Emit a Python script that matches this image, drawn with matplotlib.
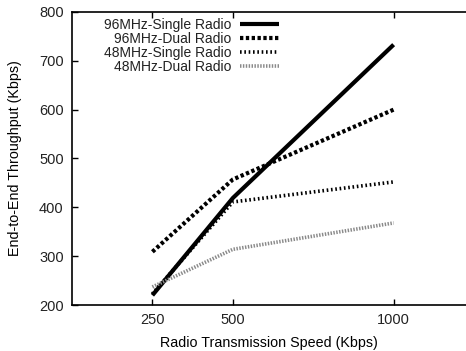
import matplotlib
matplotlib.use("Agg")
import matplotlib.pyplot as plt

plt.rcParams['font.family'] = ['Liberation Sans', 'DejaVu Sans']
plt.rcParams['text.color'] = '#222222'
plt.rcParams['xtick.labelcolor'] = '#222222'
plt.rcParams['ytick.labelcolor'] = '#222222'

speeds = [250, 500, 1000]
single_96 = [220, 419, 733]
dual_96 = [309, 457, 600]
single_48 = [223, 411, 452]
dual_48 = [237, 314, 368]
labels = ["96MHz-Single Radio", "96MHz-Dual Radio", "48MHz-Single Radio", "48MHz-Dual Radio"]

fig = plt.figure(figsize=(4.66, 3.51), dpi=100)
ax = fig.add_axes([0.1545, 0.131, 0.8455, 0.835])

ax.plot(speeds, single_96, color='black', lw=3.0, solid_capstyle='butt', label=labels[0])
ax.plot(speeds, dual_96, color='black', lw=3.0, dashes=(0.8, 0.6), dash_capstyle='butt', label=labels[1])
ax.plot(speeds, single_48, color='black', lw=2.6, dashes=(0.45, 0.75), dash_capstyle='butt', label=labels[2])
ax.plot(speeds, dual_48, color='#8a8a8a', lw=2.6, dashes=(0.4, 0.4), dash_capstyle='butt', label=labels[3])

ax.set_xlim(0, 1225)
ax.set_ylim(200, 800)
ax.set_xticks(speeds)
ax.set_yticks([200, 300, 400, 500, 600, 700, 800])
ax.tick_params(direction='in', top=True, labelsize=10.5, length=4, width=1, pad=6)
ax.spines['right'].set_visible(False)
for s in ['left', 'top', 'bottom']:
    ax.spines[s].set_linewidth(1.2)

ax.set_xlabel("Radio Transmission Speed (Kbps)", fontsize=10.3, labelpad=6)
ax.set_ylabel("End-to-End Throughput (Kbps)", fontsize=10.3, labelpad=12)

ax.legend(loc='upper right', bbox_to_anchor=(0.542, 1.003), frameon=False, markerfirst=False,
          fontsize=10, handlelength=2.8, labelspacing=0.0, handletextpad=0.6,
          borderaxespad=0.1)

fig.savefig("out.png", dpi=100)
